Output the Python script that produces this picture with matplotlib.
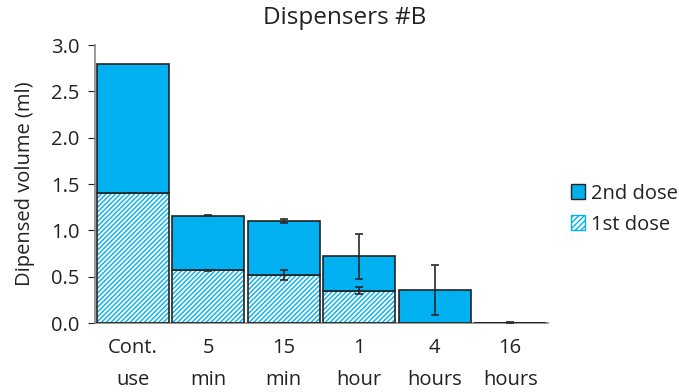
import matplotlib
matplotlib.use("Agg")
import matplotlib.pyplot as plt
import numpy as np
from matplotlib.patches import Patch

plt.rcParams["font.family"] = ["Open Sans", "DejaVu Sans"]

categories = ["Cont.\nuse", "5\nmin", "15\nmin", "1\nhour", "4\nhours", "16\nhours"]
first_dose = [1.40, 0.57, 0.52, 0.35, 0.0, 0.0]
second_dose = [1.40, 0.59, 0.58, 0.37, 0.36, 0.005]
first_err = [0.0, 0.005, 0.055, 0.04, 0.0, 0.0]
total_err = [0.0, 0.008, 0.022, 0.24, 0.27, 0.008]

blue = "#00B0F0"
edge = "#222222"
fs = 14.5

fig, ax = plt.subplots(figsize=(6.79, 3.92), dpi=100)
fig.subplots_adjust(left=0.14, right=0.807, top=0.885, bottom=0.176)

x = np.arange(len(categories))
first = np.array(first_dose)
second = np.array(second_dose)
total = first + second
w = 0.95

# hatched 1st dose (hatch drawn in blue, outline drawn separately)
ax.bar(x, first, w, color="white", edgecolor=blue, hatch="///////", linewidth=0, zorder=2)
ax.bar(x, first, w, color="none", edgecolor=edge, linewidth=1.2, zorder=3)
ax.bar(x, second, w, bottom=first, color=blue, edgecolor=edge, linewidth=1.2, zorder=3)

mask1 = first > 0
ax.errorbar(x[mask1], first[mask1], yerr=np.array(first_err)[mask1], fmt="none",
            ecolor="#2a2a2a", elinewidth=1.2, capsize=3, capthick=1.2, zorder=4)
mask2 = np.array(total_err) > 0
ax.errorbar(x[mask2], total[mask2], yerr=np.array(total_err)[mask2], fmt="none",
            ecolor="#2a2a2a", elinewidth=1.2, capsize=3, capthick=1.2, zorder=4)

ax.set_xlim(-0.5, 5.5)
ax.set_ylim(0, 3.0)
ax.set_yticks(np.arange(0, 3.01, 0.5))
ax.set_yticklabels([f"{v:.1f}" for v in np.arange(0, 3.01, 0.5)])
ax.set_xticks(x)
ax.set_xticklabels(categories, linespacing=1.75)
ax.tick_params(axis="x", length=0, labelsize=fs, pad=11, colors="#222222")
ax.tick_params(axis="y", length=5, labelsize=fs, colors="#222222", direction="out", pad=6)
for s in ["top", "right"]:
    ax.spines[s].set_visible(False)
ax.spines["left"].set_color("#888888")
ax.spines["bottom"].set_color("#888888")
ax.spines["left"].set_linewidth(1.2)
ax.spines["bottom"].set_linewidth(1.2)

ax.set_ylabel("Dipensed volume (ml)", fontsize=fs, color="#222222", labelpad=12)
fig.suptitle("Dispensers #B", fontsize=17.5, color="#222222", x=0.507, y=0.985)

handles = [
    Patch(facecolor=blue, edgecolor=edge, label="2nd dose"),
    Patch(facecolor="white", edgecolor=blue, hatch="//////", label="1st dose"),
]
leg = ax.legend(handles=handles, loc="center left", bbox_to_anchor=(1.01, 0.41),
                frameon=False, fontsize=fs, handlelength=0.7, handleheight=0.7,
                handletextpad=0.3, labelspacing=0.55)
for t in leg.get_texts():
    t.set_color("#222222")

fig.savefig("out.png", dpi=100)
